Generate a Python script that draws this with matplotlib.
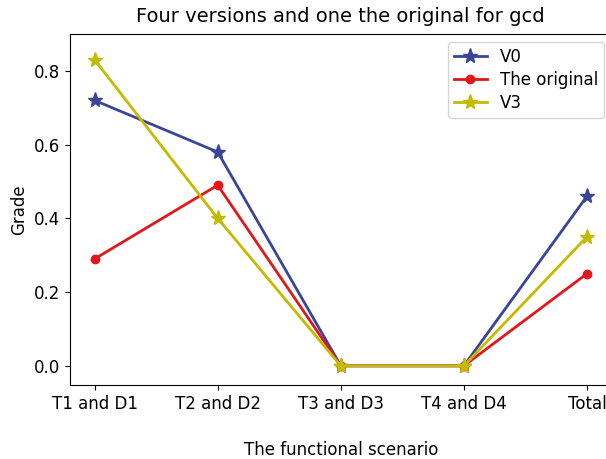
import matplotlib
matplotlib.use('Agg')
import matplotlib.pyplot as plt

scenarios = ['T1 and D1', 'T2 and D2', 'T3 and D3', 'T4 and D4', 'Total']
v0 = [0.72, 0.58, 0.0, 0.0, 0.46]
original = [0.29, 0.49, 0.0, 0.0, 0.25]
v3 = [0.83, 0.40, 0.0, 0.0, 0.35]

fig = plt.figure(figsize=(6.06, 4.59), dpi=100)
ax = fig.add_axes([0.1155, 0.1612, 0.8937, 0.7647])

x = range(len(scenarios))
ax.plot(x, v0, color='#3a4596', marker='*', markersize=11, linewidth=2, label='V0')
ax.plot(x, original, color='#e3161b', marker='o', markersize=6, linewidth=2, label='The original')
ax.plot(x, v3, color='#c4bb00', marker='*', markersize=11, linewidth=2, label='V3')

ax.set_xticks(list(x))
ax.set_xticklabels(scenarios, fontsize=12)
ax.set_yticks([0.0, 0.2, 0.4, 0.6, 0.8])
ax.tick_params(axis='y', labelsize=12)
ax.set_ylim(-0.052, 0.9)
ax.set_xlim(-0.2, 4.2)
ax.set_ylabel('Grade', fontsize=12)
ax.set_xlabel('The functional scenario', fontsize=12, labelpad=20)
ax.set_title('Four versions and one the original for gcd', fontsize=14, pad=9)
ax.legend(loc='upper right', fontsize=12, bbox_to_anchor=(1.002, 1.0),
          labelspacing=0.3, borderpad=0.35)

fig.savefig('out.png', dpi=100)
